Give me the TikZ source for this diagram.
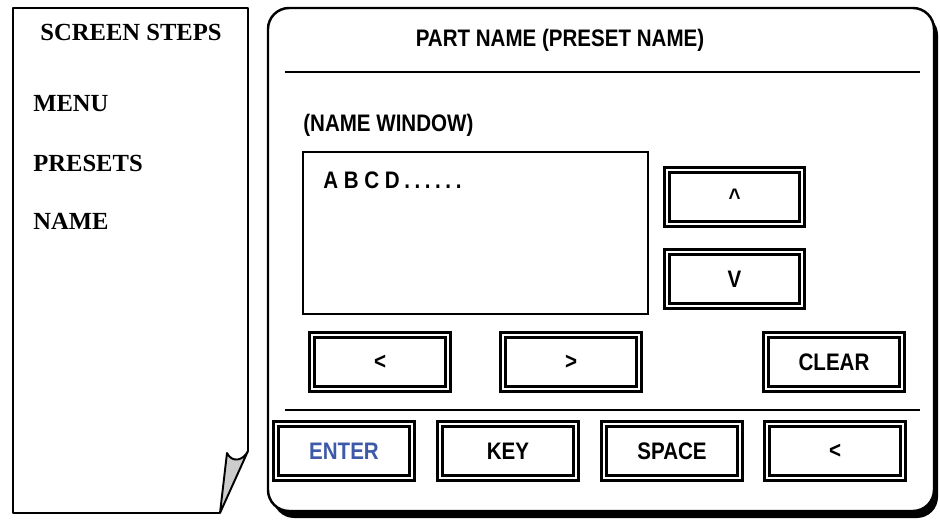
\documentclass[tikz,border=0pt]{standalone}
\usepackage{fontspec}
\setmainfont{Liberation Serif}
\setsansfont{Liberation Sans}[FakeStretch=0.86]
\usetikzlibrary{positioning}
\definecolor{enterblue}{RGB}{61,90,168}

\tikzset{
  steptext/.style={font=\fontsize{14}{16}\selectfont\bfseries, anchor=west, inner sep=0pt},
  paneltext/.style={font=\sffamily\fontsize{13.6}{15}\selectfont\bfseries, inner sep=0pt},
  keybox/.style={draw, line width=1.9pt, double, double distance=0.9pt,
                 minimum width=2.71cm, minimum height=1.07cm, inner sep=0pt,
                 font=\sffamily\fontsize{13.6}{15}\selectfont\bfseries}
}
\newcommand{\dotgap}{\hspace{2.6pt}}

\begin{document}
\begin{tikzpicture}[x=0.02cm,y=-0.02cm]
  \useasboundingbox (0,0) rectangle (940,521);

  % screen steps sheet
  \draw[line width=1.3pt, line join=round] (220,513) -- (13,513) -- (13,8) -- (248,8) -- (248,451);
  \draw[fill=black!20, line width=1.1pt, line join=round]
        (227,453) .. controls (232,463) and (243,461) .. (248,451) -- (220,513) -- cycle;
  \node[steptext, anchor=center] (steps) at (131,32) {SCREEN STEPS};
  \node[steptext] (menu) at (33,104) {MENU};
  \node[steptext] (presets) at (33,163) {PRESETS};
  \node[steptext] (name) at (33,221) {NAME};

  % screen panel
  \fill[rounded corners=12] (273,14) rectangle (938,518);
  \draw[fill=white, rounded corners=12, line width=1.4pt] (268,8) rectangle (934,511);
  \node[paneltext] (title) at (560,40) {PART NAME (PRESET NAME)};
  \draw[line width=1.1pt] (285,72) -- (920,72);
  \draw[line width=1.1pt] (285,410) -- (920,410);

  \node[paneltext, anchor=west] (window) at (303,125) {(NAME WINDOW)};
  \draw[line width=1pt] (303,152) rectangle (648,314);
  \node[paneltext, anchor=west] (chars) at (323,180)
       {A B C D\dotgap.\dotgap.\dotgap.\dotgap.\dotgap.\dotgap.};

  % keys
  \begin{scope}[every node/.style={keybox}]
    \node (up) at (734.5,197) {\textasciicircum};
    \node (down) at (734.5,279) {V};
    \node (left) at (380,362) {<};
    \node (right) at (571,362) {>};
    \node (clear) at (834,362) {CLEAR};
    \node[text=enterblue] (enter) at (344,451) {ENTER};
    \node (key) at (508,451) {KEY};
    \node (space) at (672,451) {SPACE};
    \node (back) at (835,451) {<};
  \end{scope}
\end{tikzpicture}
\end{document}
